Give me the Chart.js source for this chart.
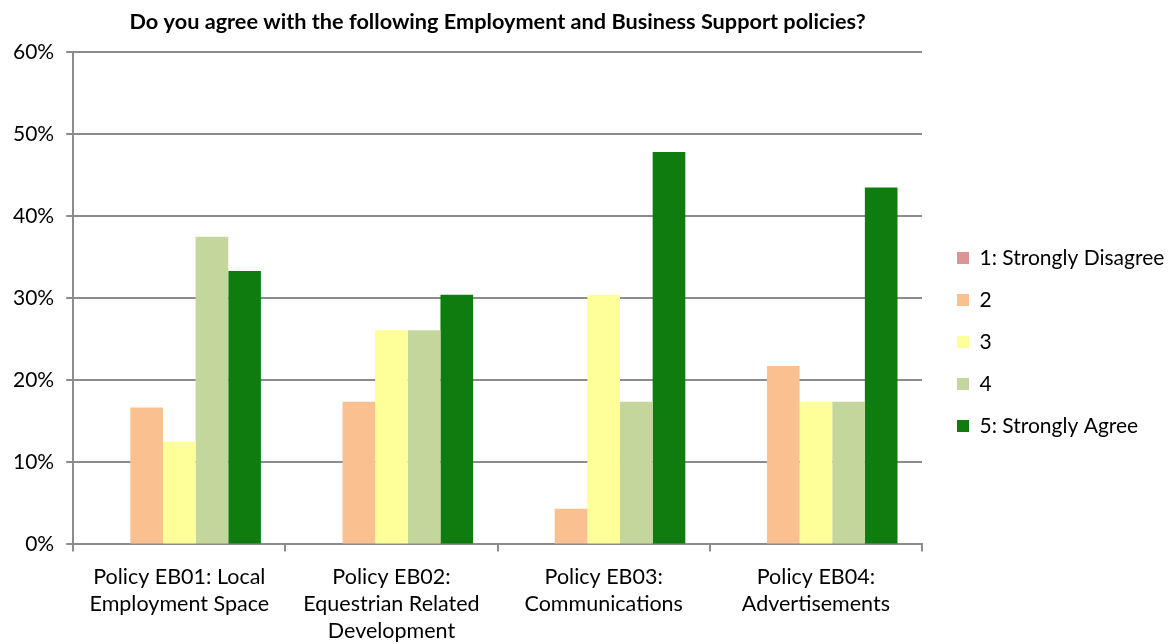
<!DOCTYPE html>
<html>
<head>
<meta charset="utf-8">
<script src="https://cdn.jsdelivr.net/npm/chart.js@4.4.1/dist/chart.umd.min.js"></script>
<style>
html,body{margin:0;padding:0;background:#fff;}
#wrap{width:1173px;height:644px;position:relative;}
</style>
</head>
<body>
<div id="wrap"><canvas id="c" width="1173" height="644"></canvas></div>
<script>
const chartTitle = "Do you agree with the following Employment and Business Support policies?";
const categories = [
  ["Policy EB01: Local", "Employment Space"],
  ["Policy EB02:", "Equestrian Related", "Development"],
  ["Policy EB03:", "Communications"],
  ["Policy EB04:", "Advertisements"]
];
const seriesNames = ["1: Strongly Disagree", "2", "3", "4", "5: Strongly Agree"];
const s1 = [0, 0, 0, 0];
const s2 = [0.1667, 0.1739, 0.0435, 0.2174];
const s3 = [0.125, 0.2609, 0.3043, 0.1739];
const s4 = [0.375, 0.2609, 0.1739, 0.1739];
const s5 = [0.3333, 0.3043, 0.4783, 0.4348];
const yTicks = [0, 0.1, 0.2, 0.3, 0.4, 0.5, 0.6];

const colors = ["#D99694", "#FAC090", "#FFFF99", "#C3D69B", "#0E7C0E"];
const seriesValues = [s1, s2, s3, s4, s5];
const FONT = "Lato, 'Liberation Sans', sans-serif";
const GRID = "#8c8c8c";

const layoutTweak = {
  id: 'layoutTweak',
  afterInit(chart) {
    const lg = chart.legend;
    const origFit = lg.fit.bind(lg);
    lg.fit = function() { origFit(); this.width = 251; };
  },
  afterLayout(chart) {
    const lg = chart.legend;
    lg.left += 14; lg.right += 14;
    lg.top += 20; lg.bottom += 20;
    const sx = chart.scales.x;
    if (sx && !sx.__patched) {
      const orig = sx._computeLabelItems.bind(sx);
      sx._computeLabelItems = function(ca) {
        const items = orig(ca);
        items.forEach(it => { if (it.options && it.options.translation) it.options.translation[1] += 6; });
        return items;
      };
      sx.__patched = true;
    }
    if (sx) sx._labelItems = null;
  }
};

new Chart(document.getElementById('c'), {
  type: 'bar',
  data: {
    labels: categories,
    datasets: seriesNames.map((n, i) => ({
      label: n,
      data: seriesValues[i],
      backgroundColor: colors[i],
      borderWidth: 0,
      categoryPercentage: 5 / 6.5,
      barPercentage: 1.0
    }))
  },
  options: {
    responsive: false,
    animation: false,
    layout: { padding: { left: 1, right: 0, top: 0, bottom: 0 } },
    plugins: {
      title: {
        display: true,
        text: chartTitle,
        fullSize: false,
        color: '#000',
        font: { family: FONT, size: 21.7, weight: 'bold' },
        padding: { top: 9, bottom: 17 }
      },
      legend: {
        position: 'right',
        align: 'center',
        labels: {
          color: '#000',
          font: { family: FONT, size: 21 },
          boxWidth: 12,
          boxHeight: 12,
          padding: 21
        }
      },
      tooltip: { enabled: false }
    },
    scales: {
      x: {
        offset: true,
        grid: { display: true, drawOnChartArea: false, drawTicks: true, tickLength: 7, offset: true, color: GRID, lineWidth: 2 },
        border: { display: true, color: GRID, width: 2 },
        ticks: { color: '#000', font: { family: FONT, size: 21.5, lineHeight: 1.25 }, padding: 6, maxRotation: 0, autoSkip: false }
      },
      y: {
        min: 0, max: 0.6,
        afterBuildTicks(axis) { axis.ticks = yTicks.map(v => ({ value: v })); },
        grid: { color: GRID, lineWidth: 2, tickLength: 7 },
        border: { display: true, color: GRID, width: 2 },
        ticks: {
          color: '#000',
          font: { family: FONT, size: 21 },
          padding: 12,
          callback: v => Math.round(v * 100) + '%'
        }
      }
    }
  },
  plugins: [layoutTweak]
});
</script>
</body>
</html>
